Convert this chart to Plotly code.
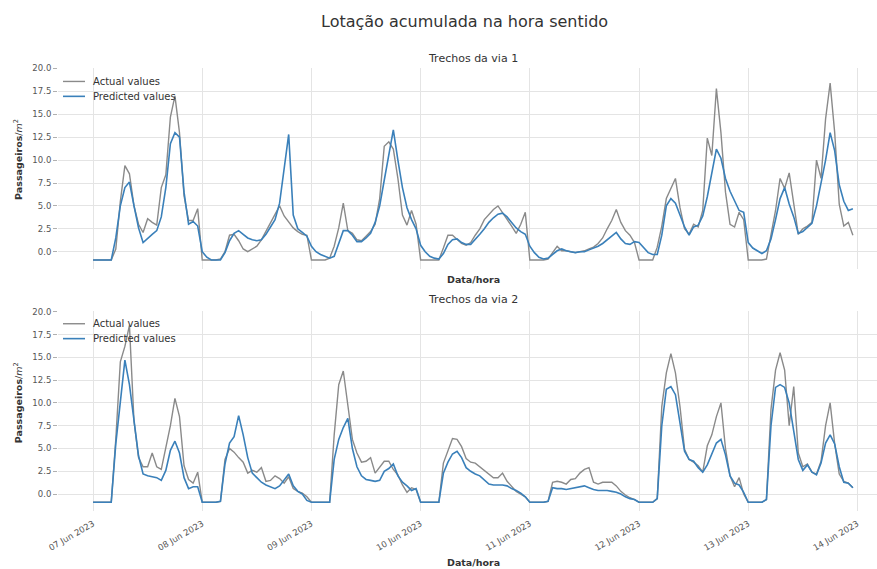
import pandas as pd
import plotly.graph_objects as go

# Hourly timestamps, 07 Jun 2023 00:00 .. 13 Jun 2023 23:00
hours = pd.date_range("2023-06-07 00:00", periods=168, freq="h")

# Trechos da via 1 (passageiros/m²), one value per hour
via1_actual = [
    -0.9, -0.9, -0.9, -0.9, -0.9, 0.3, 5.5, 9.4, 8.5, 5.0, 3.0, 2.1, 3.6, 3.2, 2.9, 7.0, 8.4, 14.7, 17.0, 13.0, 6.1, 3.4, 3.4, 4.7,
    -0.9, -0.9, -0.9, -0.9, -0.8, 0.0, 1.8, 1.9, 1.2, 0.3, 0.0, 0.3, 0.6, 1.3, 2.2, 3.2, 4.0, 5.0, 3.9, 3.2, 2.6, 2.2, 1.9, 1.8,
    -0.9, -0.9, -0.9, -0.9, -0.7, 0.6, 2.6, 5.3, 2.3, 2.0, 1.3, 1.2, 1.7, 2.2, 3.0, 5.8, 11.5, 12.0, 11.2, 8.0, 4.0, 2.9, 4.5, 3.0,
    -0.9, -0.9, -0.9, -0.9, -0.9, 0.4, 1.8, 1.8, 1.3, 0.9, 0.7, 1.0, 1.8, 2.5, 3.5, 4.1, 4.6, 5.0, 4.3, 3.6, 2.8, 2.0, 3.0, 4.3,
    -0.9, -0.9, -0.9, -0.9, -0.8, -0.1, 0.6, 0.1, 0.1, 0.0, -0.1, 0.0, 0.1, 0.3, 0.5, 0.9, 1.5, 2.5, 3.4, 4.6, 3.2, 2.3, 1.8, 1.0,
    -0.9, -0.9, -0.9, -0.9, 0.5, 2.8, 5.8, 7.0, 8.0, 4.8, 2.5, 1.9, 3.0, 2.7, 4.5, 12.4, 10.5, 17.8, 13.0, 6.5, 3.0, 2.7, 4.3, 3.5,
    -0.9, -0.9, -0.9, -0.9, -0.8, 1.8, 4.5, 8.0, 6.9, 8.6, 5.0, 1.9, 2.5, 2.8, 3.2, 10.0, 8.0, 14.5, 18.4, 13.0, 5.2, 2.8, 3.2, 1.8,
]
via1_predicted = [
    -0.9, -0.9, -0.9, -0.9, -0.9, 1.5, 5.0, 7.0, 7.6, 5.0, 2.6, 1.0, 1.5, 1.9, 2.3, 3.8, 7.0, 11.8, 13.0, 12.5, 6.5, 3.0, 3.3, 2.8,
    0.0, -0.6, -0.9, -0.9, -0.9, -0.1, 1.2, 2.0, 2.3, 1.9, 1.5, 1.3, 1.2, 1.3, 1.9, 2.7, 3.5, 5.3, 9.0, 12.8, 4.0, 2.5, 2.1, 1.7,
    0.6, 0.0, -0.3, -0.5, -0.7, -0.5, 0.8, 2.3, 2.3, 1.8, 1.1, 1.1, 1.5, 2.0, 3.2, 5.0, 7.8, 10.6, 13.3, 10.0, 7.0, 4.8, 3.5, 2.5,
    0.7, 0.0, -0.5, -0.7, -0.8, -0.2, 0.8, 1.3, 1.4, 1.0, 0.8, 0.8, 1.3, 1.9, 2.5, 3.2, 3.7, 4.1, 4.2, 3.8, 3.2, 2.6, 2.2, 1.9,
    0.6, -0.1, -0.6, -0.8, -0.7, -0.3, 0.1, 0.3, 0.1, 0.0, -0.1, 0.0, 0.0, 0.2, 0.4, 0.6, 0.9, 1.3, 1.8, 2.1, 1.4, 0.9, 0.8, 1.1,
    1.0, 0.5, -0.1, -0.3, -0.3, 1.8, 5.0, 5.8, 5.3, 4.0, 2.7, 1.8, 2.7, 2.9, 3.9, 6.0, 8.5, 11.2, 10.2, 8.0, 6.6, 5.5, 4.5, 4.3,
    1.0, 0.4, 0.1, -0.2, 0.1, 1.4, 3.5, 5.8, 7.0, 5.2, 3.8, 2.0, 2.2, 2.6, 3.1, 5.0, 7.5, 10.0, 13.0, 11.0, 7.3, 5.5, 4.5, 4.7,
]

# Trechos da via 2 (passageiros/m²), one value per hour
via2_actual = [
    -0.9, -0.9, -0.9, -0.9, -0.9, 6.0, 14.5, 16.2, 18.5, 8.0, 4.0, 3.0, 3.0, 4.5, 3.0, 2.7, 5.2, 7.5, 10.5, 8.5, 3.1, 1.6, 1.2, 2.4,
    -0.9, -0.9, -0.9, -0.9, -0.8, 3.8, 5.0, 4.6, 4.0, 3.5, 2.3, 2.6, 2.4, 2.9, 1.4, 1.5, 2.0, 1.7, 1.2, 1.9, 0.6, 0.3, 0.1, -0.3,
    -0.9, -0.9, -0.9, -0.9, -0.9, 6.5, 12.0, 13.5, 10.0, 6.0, 4.5, 3.5, 3.6, 4.0, 2.3, 3.0, 3.6, 3.6, 2.7, 2.1, 1.0, 0.2, 0.7, 0.5,
    -0.9, -0.9, -0.9, -0.9, -0.9, 3.4, 4.7, 6.1, 6.0, 5.2, 3.9, 3.5, 3.4, 3.0, 2.6, 2.2, 1.8, 1.8, 2.3, 1.4, 0.8, 0.3, 0.0, -0.3,
    -0.9, -0.9, -0.9, -0.9, -0.8, 1.3, 1.4, 1.3, 1.1, 1.6, 1.7, 2.3, 2.7, 2.9, 1.3, 1.1, 1.3, 1.3, 1.3, 0.9, 0.3, -0.1, -0.4, -0.6,
    -0.9, -0.9, -0.9, -0.9, -0.5, 9.6, 13.3, 15.4, 13.3, 9.6, 4.9, 3.8, 3.5, 3.1, 2.4, 5.3, 6.5, 8.5, 10.0, 5.0, 2.0, 0.8, 1.8, 0.0,
    -0.9, -0.9, -0.9, -0.9, -0.6, 9.3, 13.6, 15.5, 13.6, 7.5, 11.8, 4.5, 3.0, 3.3, 2.4, 2.2, 3.6, 7.5, 10.0, 5.5, 2.2, 1.4, 1.2, 0.7,
]
via2_predicted = [
    -0.9, -0.9, -0.9, -0.9, -0.9, 5.5, 10.5, 14.7, 12.0, 8.0, 4.2, 2.2, 2.0, 1.9, 1.8, 1.5, 2.6, 4.8, 5.8, 4.5, 1.8, 0.6, 0.8, 0.8,
    -0.9, -0.9, -0.9, -0.9, -0.8, 3.3, 5.6, 6.3, 8.6, 6.5, 4.0, 2.3, 1.8, 1.3, 1.0, 0.8, 0.6, 0.9, 1.5, 2.2, 0.9, 0.3, 0.0, -0.7,
    -0.9, -0.9, -0.9, -0.9, -0.9, 3.8, 6.0, 7.3, 8.3, 5.0, 3.0, 2.0, 1.6, 1.5, 1.4, 1.5, 2.5, 2.8, 3.3, 2.0, 1.3, 0.9, 0.4, 0.6,
    -0.9, -0.9, -0.9, -0.9, -0.9, 2.3, 3.5, 4.4, 4.7, 4.0, 2.9, 2.5, 2.2, 2.0, 1.5, 1.1, 1.0, 1.0, 1.0, 0.9, 0.6, 0.4, 0.1, -0.3,
    -0.9, -0.9, -0.9, -0.9, -0.8, 0.7, 0.6, 0.6, 0.5, 0.6, 0.7, 0.8, 0.9, 0.7, 0.5, 0.4, 0.4, 0.4, 0.3, 0.2, 0.0, -0.3, -0.5, -0.6,
    -0.9, -0.9, -0.9, -0.9, -0.5, 7.5, 11.5, 11.8, 10.9, 8.0, 4.7, 3.8, 3.6, 2.9, 2.4, 3.2, 4.3, 5.6, 6.0, 4.3, 2.0, 1.2, 1.0, 0.2,
    -0.9, -0.9, -0.9, -0.9, -0.6, 7.5, 11.7, 12.0, 11.7, 10.0, 6.9, 3.8, 2.6, 3.2, 2.4, 2.1, 3.4, 5.6, 6.5, 5.5, 3.0, 1.3, 1.2, 0.7,
]

SERIES_NAMES = ["Actual values", "Predicted values"]
COLORS = ["#8a8a8a", "#3a80ba"]
WIDTHS = [1.4, 1.6]
FONT = "DejaVu Sans"
TEXT = "#333333"

W, H = 877, 569
LEFT = 58
PLOT_W = W - LEFT


def px_x(px):
    return (px - LEFT) / PLOT_W


def px_y(py):
    return 1 - py / H


fig = go.Figure()

panels = [
    ("x", "y", via1_actual, via1_predicted),
    ("x2", "y2", via2_actual, via2_predicted),
]
for xa, ya, act, pred in panels:
    for name, vals, color, width in zip(SERIES_NAMES, [act, pred], COLORS, WIDTHS):
        fig.add_trace(go.Scatter(
            x=hours, y=vals, mode="lines", name=name,
            line=dict(color=color, width=width),
            xaxis=xa, yaxis=ya, showlegend=False,
        ))

x_range = ["2023-06-06 16:18", "2023-06-14 04:18"]
y_range = [-1.9, 20.1]

common_x = dict(
    range=x_range, type="date", dtick=86400000, tick0="2023-06-07",
    showgrid=True, gridcolor="#e4e4e4", gridwidth=1, zeroline=False,
    showline=False, domain=[0, 1],
)
common_y = dict(
    range=y_range, dtick=2.5, tick0=0, tickformat=".1f",
    showgrid=True, gridcolor="#e4e4e4", gridwidth=1, zeroline=False,
    showline=False, ticks="outside", ticklen=4, tickcolor="#b0b0b0",
    tickfont=dict(family=FONT, size=8.5, color="#555555"),
)

top_dom = [px_y(267), px_y(64)]
bot_dom = [px_y(511), px_y(309)]

fig.update_layout(
    width=W, height=H,
    margin=dict(l=LEFT, r=0, t=0, b=0),
    paper_bgcolor="white", plot_bgcolor="white",
    font=dict(family=FONT, color=TEXT),
    xaxis=dict(**common_x, anchor="y", showticklabels=False, ticks=""),
    yaxis=dict(**common_y, domain=top_dom, anchor="x"),
    xaxis2=dict(**common_x, anchor="y2", tickformat="%d %b %Y", tickangle=-30,
                ticks="", ticklabelstandoff=5,
                tickfont=dict(family=FONT, size=8.5, color="#555555")),
    yaxis2=dict(**common_y, domain=bot_dom, anchor="x2"),
    showlegend=False,
)

ann = []
shapes = []
ann.append(dict(text="Lotação acumulada na hora sentido", x=px_x(464), y=px_y(18),
                xref="paper", yref="paper", showarrow=False, xanchor="center", yanchor="middle",
                font=dict(family=FONT, size=16, color=TEXT)))
for title, ypx in [("Trechos da via 1", 55), ("Trechos da via 2", 298)]:
    ann.append(dict(text=title, x=px_x(473), y=px_y(ypx), xref="paper", yref="paper",
                    showarrow=False, xanchor="center", yanchor="middle",
                    font=dict(family=FONT, size=11, color=TEXT)))
for ypx in [277, 562]:
    ann.append(dict(text="<b>Data/hora</b>", x=px_x(473), y=px_y(ypx), xref="paper", yref="paper",
                    showarrow=False, xanchor="center", yanchor="middle",
                    font=dict(family=FONT, size=9.5, color=TEXT)))
for ypx in [157, 402]:
    ann.append(dict(text="<b>Passageiros</b>/<i>m</i><sup>2</sup>", x=px_x(18), y=px_y(ypx),
                    xref="paper", yref="paper", showarrow=False, textangle=-90,
                    xanchor="center", yanchor="middle",
                    font=dict(family=FONT, size=9.5, color=TEXT)))

# Per-panel legend: short line sample followed by the series name
for first_row in [78, 322]:
    for i, (name, color, width) in enumerate(zip(SERIES_NAMES, COLORS, WIDTHS)):
        row = first_row + 15 * i
        shapes.append(dict(type="line", xref="paper", yref="paper",
                           x0=px_x(63), x1=px_x(85), y0=px_y(row), y1=px_y(row),
                           line=dict(color=color, width=width)))
        ann.append(dict(text=name, x=px_x(91), y=px_y(row), xref="paper", yref="paper",
                        showarrow=False, xanchor="left", yanchor="middle",
                        font=dict(family=FONT, size=10, color=TEXT)))

fig.update_layout(annotations=ann, shapes=shapes)

fig.write_html("out.html")
